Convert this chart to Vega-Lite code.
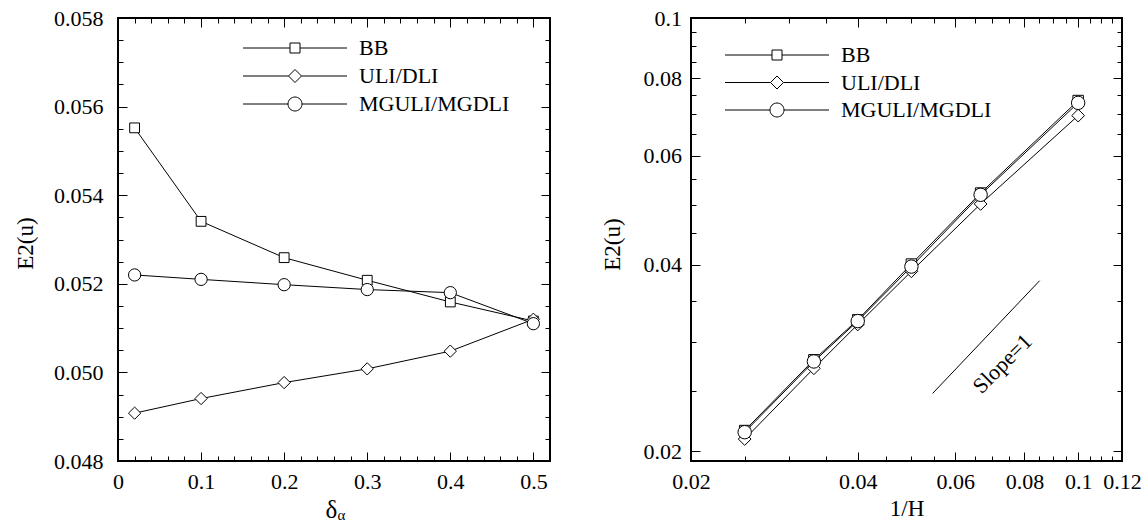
{
  "$schema": "https://vega.github.io/schema/vega-lite/v6.json",
  "background": "white",
  "padding": {"left": 13, "top": 6, "right": 5, "bottom": 0},
  "config": {
    "font": "Liberation Serif",
    "view": {"stroke": "black", "strokeWidth": 2},
    "axis": {
      "domain": false,
      "grid": false,
      "labelFont": "Liberation Serif",
      "labelFontSize": 22,
      "labelColor": "black",
      "labelFlush": false,
      "labelOverlap": false,
      "labelBound": false,
      "titleFont": "Liberation Serif",
      "titleFontSize": 23,
      "titleFontWeight": "normal",
      "titleColor": "black",
      "tickColor": "black",
      "tickWidth": 1
    },
    "legend": {
      "labelFont": "Liberation Serif",
      "labelFontSize": 22,
      "labelColor": "black"
    }
  },
  "resolve": {"scale": {"shape": "independent"}, "legend": {"shape": "independent"}},
  "spacing": 48,
  "hconcat": [
    {
      "width": 432,
      "height": 443,
      "data": {"values": [
        {"series": "BB", "delta": 0.02, "E2": 0.05552},
        {"series": "BB", "delta": 0.1, "E2": 0.05341},
        {"series": "BB", "delta": 0.2, "E2": 0.05259},
        {"series": "BB", "delta": 0.3, "E2": 0.05208},
        {"series": "BB", "delta": 0.4, "E2": 0.05159},
        {"series": "BB", "delta": 0.5, "E2": 0.05116},
        {"series": "ULI/DLI", "delta": 0.02, "E2": 0.04908},
        {"series": "ULI/DLI", "delta": 0.1, "E2": 0.04941},
        {"series": "ULI/DLI", "delta": 0.2, "E2": 0.04977},
        {"series": "ULI/DLI", "delta": 0.3, "E2": 0.05008},
        {"series": "ULI/DLI", "delta": 0.4, "E2": 0.05048},
        {"series": "ULI/DLI", "delta": 0.5, "E2": 0.05120},
        {"series": "MGULI/MGDLI", "delta": 0.02, "E2": 0.05220},
        {"series": "MGULI/MGDLI", "delta": 0.1, "E2": 0.05210},
        {"series": "MGULI/MGDLI", "delta": 0.2, "E2": 0.05198},
        {"series": "MGULI/MGDLI", "delta": 0.3, "E2": 0.05187},
        {"series": "MGULI/MGDLI", "delta": 0.4, "E2": 0.05180},
        {"series": "MGULI/MGDLI", "delta": 0.5, "E2": 0.05110}
      ]},
      "resolve": {"axis": {"x": "independent", "y": "independent"}, "scale": {"shape": "independent"}, "legend": {"shape": "independent"}},
      "layer": [
        {
          "mark": {"type": "line", "color": "black", "strokeWidth": 1},
          "encoding": {
            "x": {"field": "delta", "type": "quantitative",
              "scale": {"domain": [0, 0.52], "nice": false, "zero": false},
              "axis": {"orient": "bottom",
                "values": [0,0.02,0.04,0.06,0.08,0.1,0.12,0.14,0.16,0.18,0.2,0.22,0.24,0.26,0.28,0.3,0.32,0.34,0.36,0.38,0.4,0.42,0.44,0.46,0.48,0.5,0.52],
                "labelExpr": "abs(datum.value*10 - round(datum.value*10)) < 1e-6 ? format(datum.value, '~g') : ''",
                "tickSize": {"condition": {"test": "abs(datum.value*10 - round(datum.value*10)) < 1e-6", "value": -9}, "value": -5},
                "labelPadding": 19,
                "title": "δ", "titleFontSize": 25, "titleX": 213, "titleY": 56, "titleAlign": "center", "titleBaseline": "alphabetic"}},
            "y": {"field": "E2", "type": "quantitative",
              "scale": {"domain": [0.048, 0.058], "nice": false, "zero": false},
              "axis": {"orient": "left",
                "values": [0.048,0.0485,0.049,0.0495,0.05,0.0505,0.051,0.0515,0.052,0.0525,0.053,0.0535,0.054,0.0545,0.055,0.0555,0.056,0.0565,0.057,0.0575,0.058],
                "labelExpr": "abs(datum.value*500 - round(datum.value*500)) < 1e-6 ? format(datum.value, '.3f') : ''",
                "tickSize": {"condition": {"test": "abs(datum.value*500 - round(datum.value*500)) < 1e-6", "value": -9}, "value": -5},
                "labelPadding": 24,
                "title": "E2(u)", "titleX": -93, "titleY": 225, "titleAlign": "center", "titleBaseline": "middle", "titleAngle": -90}},
            "detail": {"field": "series"}
          }
        },
        {
          "mark": {"type": "point", "filled": true, "fill": "white", "stroke": "black", "strokeWidth": 1, "opacity": 1, "size": 150},
          "encoding": {
            "x": {"field": "delta", "type": "quantitative",
              "scale": {"domain": [0, 0.52], "nice": false, "zero": false},
              "axis": {"orient": "top",
                "values": [0,0.02,0.04,0.06,0.08,0.1,0.12,0.14,0.16,0.18,0.2,0.22,0.24,0.26,0.28,0.3,0.32,0.34,0.36,0.38,0.4,0.42,0.44,0.46,0.48,0.5,0.52],
                "labels": false,
                "tickSize": {"condition": {"test": "abs(datum.value*10 - round(datum.value*10)) < 1e-6", "value": -9}, "value": -5},
                "title": "α", "titleFontSize": 15, "titleX": 223, "titleY": 501, "titleAlign": "center", "titleBaseline": "alphabetic"}},
            "y": {"field": "E2", "type": "quantitative",
              "scale": {"domain": [0.048, 0.058], "nice": false, "zero": false},
              "axis": {"orient": "right",
                "values": [0.048,0.0485,0.049,0.0495,0.05,0.0505,0.051,0.0515,0.052,0.0525,0.053,0.0535,0.054,0.0545,0.055,0.0555,0.056,0.0565,0.057,0.0575,0.058],
                "labels": false,
                "tickSize": {"condition": {"test": "abs(datum.value*500 - round(datum.value*500)) < 1e-6", "value": -9}, "value": -5},
                "title": null}},
            "shape": {"field": "series", "type": "nominal",
              "scale": {"domain": ["BB", "ULI/DLI", "MGULI/MGDLI"], "range": ["M-0.8,-0.8H0.8V0.8H-0.8Z", "M-1,0L0,-1L1,0L0,1Z", "circle"]},
              "legend": null}
          }
        },
        {
          "mark": {"type": "point", "filled": true, "fill": "white", "stroke": "black", "strokeWidth": 1, "opacity": 0},
          "encoding": {
            "shape": {"field": "series", "type": "nominal",
              "scale": {"domain": ["BB", "ULI/DLI", "MGULI/MGDLI"], "range": [
                "M-10.4,0H-1M1,0H10.4M-1,-1H1V1H-1Z",
                "M-10.4,0H-1.3M1.3,0H10.4M-1.3,0L0,-1.3L1.3,0L0,1.3Z",
                "M-10.4,0H-1.4M1.4,0H10.4M1.4,0C1.4,0.773,0.773,1.4,0,1.4C-0.773,1.4,-1.4,0.773,-1.4,0C-1.4,-0.773,-0.773,-1.4,0,-1.4C0.773,-1.4,1.4,-0.773,1.4,0Z"]},
              "legend": {"orient": "none", "legendX": 166, "legendY": 19, "title": null,
                "labelOffset": 53, "rowPadding": 6, "symbolOpacity": 1, "symbolStrokeWidth": 1}}
          }
        }
      ]
    },
    {
      "width": 431,
      "height": 443,
      "data": {"values": [
        {"series": "BB", "invH": 0.025, "E2": 0.02161},
        {"series": "BB", "invH": 0.033333, "E2": 0.0281},
        {"series": "BB", "invH": 0.04, "E2": 0.0326},
        {"series": "BB", "invH": 0.05, "E2": 0.0401},
        {"series": "BB", "invH": 0.066667, "E2": 0.0522},
        {"series": "BB", "invH": 0.1, "E2": 0.0736},
        {"series": "ULI/DLI", "invH": 0.025, "E2": 0.02094},
        {"series": "ULI/DLI", "invH": 0.033333, "E2": 0.02723},
        {"series": "ULI/DLI", "invH": 0.04, "E2": 0.03204},
        {"series": "ULI/DLI", "invH": 0.05, "E2": 0.03904},
        {"series": "ULI/DLI", "invH": 0.066667, "E2": 0.05013},
        {"series": "ULI/DLI", "invH": 0.1, "E2": 0.0696},
        {"series": "MGULI/MGDLI", "invH": 0.025, "E2": 0.02148},
        {"series": "MGULI/MGDLI", "invH": 0.033333, "E2": 0.02793},
        {"series": "MGULI/MGDLI", "invH": 0.04, "E2": 0.03245},
        {"series": "MGULI/MGDLI", "invH": 0.05, "E2": 0.03973},
        {"series": "MGULI/MGDLI", "invH": 0.066667, "E2": 0.05186},
        {"series": "MGULI/MGDLI", "invH": 0.1, "E2": 0.07297}
      ]},
      "resolve": {"axis": {"x": "independent", "y": "independent"}, "scale": {"shape": "independent"}, "legend": {"shape": "independent"}},
      "layer": [
        {
          "mark": {"type": "line", "color": "black", "strokeWidth": 1},
          "encoding": {
            "x": {"field": "invH", "type": "quantitative",
              "scale": {"type": "log", "domain": [0.02, 0.12], "nice": false},
              "axis": {"orient": "bottom",
                "values": [0.02,0.025,0.03,0.035,0.04,0.045,0.05,0.055,0.06,0.065,0.07,0.075,0.08,0.085,0.09,0.095,0.1,0.105,0.11,0.115,0.12],
                "labelExpr": "abs(datum.value*50 - round(datum.value*50)) < 1e-6 ? format(datum.value, '~g') : ''",
                "tickSize": {"condition": {"test": "abs(datum.value*50 - round(datum.value*50)) < 1e-6", "value": -9}, "value": -5},
                "labelPadding": 19,
                "title": "1/H", "titleX": 215.5, "titleY": 54, "titleAlign": "center", "titleBaseline": "alphabetic"}},
            "y": {"field": "E2", "type": "quantitative",
              "scale": {"type": "log", "domain": [0.0193, 0.1], "nice": false},
              "axis": {"orient": "left",
                "values": [0.02,0.025,0.03,0.035,0.04,0.045,0.05,0.055,0.06,0.065,0.07,0.075,0.08,0.085,0.09,0.095,0.1],
                "labelExpr": "abs(datum.value*50 - round(datum.value*50)) < 1e-6 ? format(datum.value, '~g') : ''",
                "tickSize": {"condition": {"test": "abs(datum.value*50 - round(datum.value*50)) < 1e-6", "value": -9}, "value": -5},
                "labelPadding": 18.5,
                "title": "E2(u)", "titleX": -79, "titleY": 226, "titleAlign": "center", "titleBaseline": "middle", "titleAngle": -90}},
            "detail": {"field": "series"}
          }
        },
        {
          "data": {"values": [
            {"x": 0.0546, "y": 0.0248},
            {"x": 0.0852, "y": 0.0377}
          ]},
          "mark": {"type": "line", "color": "black", "strokeWidth": 1},
          "encoding": {
            "x": {"field": "x", "type": "quantitative", "scale": {"type": "log", "domain": [0.02, 0.12], "nice": false}, "axis": null},
            "y": {"field": "y", "type": "quantitative", "scale": {"type": "log", "domain": [0.0193, 0.1], "nice": false}, "axis": null}
          }
        },
        {
          "data": {"values": [
            {"x": 0.073, "y": 0.0277, "label": "Slope=1"}
          ]},
          "mark": {"type": "text", "font": "Liberation Serif", "fontSize": 22, "angle": -45, "align": "center", "baseline": "middle", "color": "black"},
          "encoding": {
            "x": {"field": "x", "type": "quantitative", "scale": {"type": "log", "domain": [0.02, 0.12], "nice": false}, "axis": null},
            "y": {"field": "y", "type": "quantitative", "scale": {"type": "log", "domain": [0.0193, 0.1], "nice": false}, "axis": null},
            "text": {"field": "label"}
          }
        },
        {
          "mark": {"type": "point", "filled": true, "fill": "white", "stroke": "black", "strokeWidth": 1, "opacity": 1, "size": 180},
          "encoding": {
            "x": {"field": "invH", "type": "quantitative",
              "scale": {"type": "log", "domain": [0.02, 0.12], "nice": false},
              "axis": {"orient": "top",
                "values": [0.02,0.025,0.03,0.035,0.04,0.045,0.05,0.055,0.06,0.065,0.07,0.075,0.08,0.085,0.09,0.095,0.1,0.105,0.11,0.115,0.12],
                "labels": false,
                "tickSize": {"condition": {"test": "abs(datum.value*50 - round(datum.value*50)) < 1e-6", "value": -9}, "value": -5},
                "title": null}},
            "y": {"field": "E2", "type": "quantitative",
              "scale": {"type": "log", "domain": [0.0193, 0.1], "nice": false},
              "axis": {"orient": "right",
                "values": [0.02,0.025,0.03,0.035,0.04,0.045,0.05,0.055,0.06,0.065,0.07,0.075,0.08,0.085,0.09,0.095,0.1],
                "labels": false,
                "tickSize": {"condition": {"test": "abs(datum.value*50 - round(datum.value*50)) < 1e-6", "value": -9}, "value": -5},
                "title": null}},
            "shape": {"field": "series", "type": "nominal",
              "scale": {"domain": ["BB", "ULI/DLI", "MGULI/MGDLI"], "range": ["M-0.78,-0.78H0.78V0.78H-0.78Z", "M-0.95,0L0,-0.95L0.95,0L0,0.95Z", "circle"]},
              "legend": null}
          }
        },
        {
          "mark": {"type": "point", "filled": true, "fill": "white", "stroke": "black", "strokeWidth": 1, "opacity": 0},
          "encoding": {
            "shape": {"field": "series", "type": "nominal",
              "scale": {"domain": ["BB", "ULI/DLI", "MGULI/MGDLI"], "range": [
                "M-10.4,0H-1M1,0H10.4M-1,-1H1V1H-1Z",
                "M-10.4,0H-1.3M1.3,0H10.4M-1.3,0L0,-1.3L1.3,0L0,1.3Z",
                "M-10.4,0H-1.4M1.4,0H10.4M1.4,0C1.4,0.773,0.773,1.4,0,1.4C-0.773,1.4,-1.4,0.773,-1.4,0C-1.4,-0.773,-0.773,-1.4,0,-1.4C0.773,-1.4,1.4,-0.773,1.4,0Z"]},
              "legend": {"orient": "none", "legendX": 75, "legendY": 26, "title": null,
                "labelOffset": 53, "rowPadding": 5.5, "symbolOpacity": 1, "symbolStrokeWidth": 1}}
          }
        }
      ]
    }
  ]
}
